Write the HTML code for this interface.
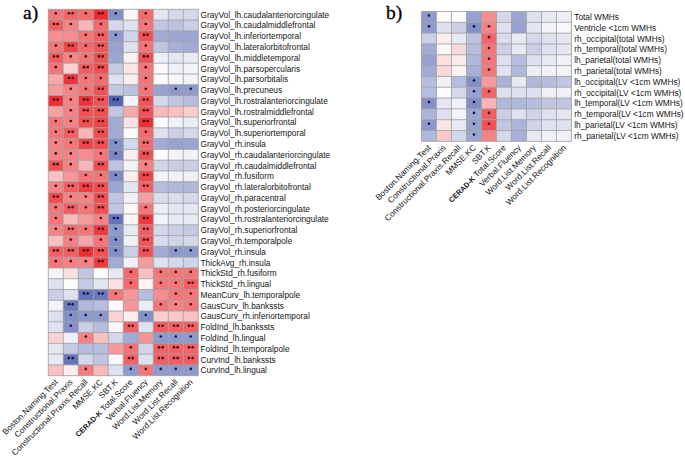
<!DOCTYPE html>
<html><head><meta charset="utf-8"><style>
html,body{margin:0;padding:0;background:#fff;}
body{width:685px;height:458px;overflow:hidden;}
svg{display:block;}
text{font-family:"Liberation Sans",sans-serif;}
.rl{font-size:8.3px;fill:#151515;}
.cl{fill:#151515;text-anchor:end;}
.st{font-size:8px;text-anchor:middle;font-weight:bold;}
.pl{font-family:"Liberation Serif",serif;font-size:19.5px;fill:#000;stroke:#000;stroke-width:0.3px;}
line{stroke:#9c9c9c;stroke-width:0.8;}
</style></head><body>
<svg width="685" height="458" viewBox="0 0 685 458">
<text class="pl" x="23.1" y="19">a)</text>
<text class="pl" x="386.1" y="18.6">b)</text>
<rect x="48.30" y="9.30" width="15.00" height="10.78" fill="#f57679"/>
<rect x="63.30" y="9.30" width="15.00" height="10.78" fill="#f46569"/>
<rect x="78.30" y="9.30" width="15.00" height="10.78" fill="#f46a6d"/>
<rect x="93.30" y="9.30" width="15.00" height="10.78" fill="#f12d32"/>
<rect x="108.30" y="9.30" width="15.00" height="10.78" fill="#8490c8"/>
<rect x="123.30" y="9.30" width="15.00" height="10.78" fill="#fcf7f8"/>
<rect x="138.30" y="9.30" width="15.00" height="10.78" fill="#f46a6d"/>
<rect x="153.30" y="9.30" width="15.00" height="10.78" fill="#e4e6f2"/>
<rect x="168.30" y="9.30" width="15.00" height="10.78" fill="#d4d8eb"/>
<rect x="183.30" y="9.30" width="15.00" height="10.78" fill="#d4d8eb"/>
<rect x="48.30" y="20.08" width="15.00" height="10.78" fill="#f45d62"/>
<rect x="63.30" y="20.08" width="15.00" height="10.78" fill="#f68285"/>
<rect x="78.30" y="20.08" width="15.00" height="10.78" fill="#f8b4b6"/>
<rect x="93.30" y="20.08" width="15.00" height="10.78" fill="#f46a6d"/>
<rect x="108.30" y="20.08" width="15.00" height="10.78" fill="#d4d8eb"/>
<rect x="123.30" y="20.08" width="15.00" height="10.78" fill="#dee1ef"/>
<rect x="138.30" y="20.08" width="15.00" height="10.78" fill="#f57679"/>
<rect x="153.30" y="20.08" width="15.00" height="10.78" fill="#c0c6e2"/>
<rect x="168.30" y="20.08" width="15.00" height="10.78" fill="#bcc2e0"/>
<rect x="183.30" y="20.08" width="15.00" height="10.78" fill="#cacfe6"/>
<rect x="48.30" y="30.85" width="15.00" height="10.78" fill="#f68e91"/>
<rect x="63.30" y="30.85" width="15.00" height="10.78" fill="#f68e91"/>
<rect x="78.30" y="30.85" width="15.00" height="10.78" fill="#f57679"/>
<rect x="93.30" y="30.85" width="15.00" height="10.78" fill="#f45d62"/>
<rect x="108.30" y="30.85" width="15.00" height="10.78" fill="#8e99cc"/>
<rect x="123.30" y="30.85" width="15.00" height="10.78" fill="#d0d4e9"/>
<rect x="138.30" y="30.85" width="15.00" height="10.78" fill="#f35156"/>
<rect x="153.30" y="30.85" width="15.00" height="10.78" fill="#a2abd5"/>
<rect x="168.30" y="30.85" width="15.00" height="10.78" fill="#9ca6d2"/>
<rect x="183.30" y="30.85" width="15.00" height="10.78" fill="#9ca6d2"/>
<rect x="48.30" y="41.63" width="15.00" height="10.78" fill="#f57679"/>
<rect x="63.30" y="41.63" width="15.00" height="10.78" fill="#f2454a"/>
<rect x="78.30" y="41.63" width="15.00" height="10.78" fill="#f46a6d"/>
<rect x="93.30" y="41.63" width="15.00" height="10.78" fill="#f3565a"/>
<rect x="108.30" y="41.63" width="15.00" height="10.78" fill="#98a2d0"/>
<rect x="123.30" y="41.63" width="15.00" height="10.78" fill="#dee1ef"/>
<rect x="138.30" y="41.63" width="15.00" height="10.78" fill="#f57679"/>
<rect x="153.30" y="41.63" width="15.00" height="10.78" fill="#c0c6e2"/>
<rect x="168.30" y="41.63" width="15.00" height="10.78" fill="#a8b0d7"/>
<rect x="183.30" y="41.63" width="15.00" height="10.78" fill="#a2abd5"/>
<rect x="48.30" y="52.40" width="15.00" height="10.78" fill="#f45d62"/>
<rect x="63.30" y="52.40" width="15.00" height="10.78" fill="#f68285"/>
<rect x="78.30" y="52.40" width="15.00" height="10.78" fill="#f57679"/>
<rect x="93.30" y="52.40" width="15.00" height="10.78" fill="#f35156"/>
<rect x="108.30" y="52.40" width="15.00" height="10.78" fill="#9ca6d2"/>
<rect x="123.30" y="52.40" width="15.00" height="10.78" fill="#fbf1f1"/>
<rect x="138.30" y="52.40" width="15.00" height="10.78" fill="#f34c51"/>
<rect x="153.30" y="52.40" width="15.00" height="10.78" fill="#eceef5"/>
<rect x="168.30" y="52.40" width="15.00" height="10.78" fill="#e4e6f2"/>
<rect x="183.30" y="52.40" width="15.00" height="10.78" fill="#e8eaf3"/>
<rect x="48.30" y="63.18" width="15.00" height="10.78" fill="#f57679"/>
<rect x="63.30" y="63.18" width="15.00" height="10.78" fill="#fad2d3"/>
<rect x="78.30" y="63.18" width="15.00" height="10.78" fill="#f45d62"/>
<rect x="93.30" y="63.18" width="15.00" height="10.78" fill="#f34c51"/>
<rect x="108.30" y="63.18" width="15.00" height="10.78" fill="#c4cae4"/>
<rect x="123.30" y="63.18" width="15.00" height="10.78" fill="#fbe5e5"/>
<rect x="138.30" y="63.18" width="15.00" height="10.78" fill="#f57679"/>
<rect x="153.30" y="63.18" width="15.00" height="10.78" fill="#fcf7f8"/>
<rect x="168.30" y="63.18" width="15.00" height="10.78" fill="#f0f1f7"/>
<rect x="183.30" y="63.18" width="15.00" height="10.78" fill="#f4f5f9"/>
<rect x="48.30" y="73.96" width="15.00" height="10.78" fill="#f8a7aa"/>
<rect x="63.30" y="73.96" width="15.00" height="10.78" fill="#f13439"/>
<rect x="78.30" y="73.96" width="15.00" height="10.78" fill="#f57679"/>
<rect x="93.30" y="73.96" width="15.00" height="10.78" fill="#f46a6d"/>
<rect x="108.30" y="73.96" width="15.00" height="10.78" fill="#dee1ef"/>
<rect x="123.30" y="73.96" width="15.00" height="10.78" fill="#fbeeef"/>
<rect x="138.30" y="73.96" width="15.00" height="10.78" fill="#f57679"/>
<rect x="153.30" y="73.96" width="15.00" height="10.78" fill="#fcfafa"/>
<rect x="168.30" y="73.96" width="15.00" height="10.78" fill="#f6f7f9"/>
<rect x="183.30" y="73.96" width="15.00" height="10.78" fill="#f2f3f8"/>
<rect x="48.30" y="84.73" width="15.00" height="10.78" fill="#f79a9d"/>
<rect x="63.30" y="84.73" width="15.00" height="10.78" fill="#f68285"/>
<rect x="78.30" y="84.73" width="15.00" height="10.78" fill="#f57679"/>
<rect x="93.30" y="84.73" width="15.00" height="10.78" fill="#f35156"/>
<rect x="108.30" y="84.73" width="15.00" height="10.78" fill="#c4cae4"/>
<rect x="123.30" y="84.73" width="15.00" height="10.78" fill="#bcc2e0"/>
<rect x="138.30" y="84.73" width="15.00" height="10.78" fill="#f57679"/>
<rect x="153.30" y="84.73" width="15.00" height="10.78" fill="#98a2d0"/>
<rect x="168.30" y="84.73" width="15.00" height="10.78" fill="#8e99cc"/>
<rect x="183.30" y="84.73" width="15.00" height="10.78" fill="#8e99cc"/>
<rect x="48.30" y="95.51" width="15.00" height="10.78" fill="#f12d32"/>
<rect x="63.30" y="95.51" width="15.00" height="10.78" fill="#f68285"/>
<rect x="78.30" y="95.51" width="15.00" height="10.78" fill="#f13439"/>
<rect x="93.30" y="95.51" width="15.00" height="10.78" fill="#f35156"/>
<rect x="108.30" y="95.51" width="15.00" height="10.78" fill="#5263b2"/>
<rect x="123.30" y="95.51" width="15.00" height="10.78" fill="#f2f3f8"/>
<rect x="138.30" y="95.51" width="15.00" height="10.78" fill="#f35156"/>
<rect x="153.30" y="95.51" width="15.00" height="10.78" fill="#d4d8eb"/>
<rect x="168.30" y="95.51" width="15.00" height="10.78" fill="#c0c6e2"/>
<rect x="183.30" y="95.51" width="15.00" height="10.78" fill="#b6bdde"/>
<rect x="48.30" y="106.28" width="15.00" height="10.78" fill="#f7a0a2"/>
<rect x="63.30" y="106.28" width="15.00" height="10.78" fill="#f68285"/>
<rect x="78.30" y="106.28" width="15.00" height="10.78" fill="#f35156"/>
<rect x="93.30" y="106.28" width="15.00" height="10.78" fill="#f34c51"/>
<rect x="108.30" y="106.28" width="15.00" height="10.78" fill="#c0c6e2"/>
<rect x="123.30" y="106.28" width="15.00" height="10.78" fill="#f8a7aa"/>
<rect x="138.30" y="106.28" width="15.00" height="10.78" fill="#f35156"/>
<rect x="153.30" y="106.28" width="15.00" height="10.78" fill="#f8b9bb"/>
<rect x="168.30" y="106.28" width="15.00" height="10.78" fill="#f9c1c2"/>
<rect x="183.30" y="106.28" width="15.00" height="10.78" fill="#facdce"/>
<rect x="48.30" y="117.06" width="15.00" height="10.78" fill="#f57679"/>
<rect x="63.30" y="117.06" width="15.00" height="10.78" fill="#f68285"/>
<rect x="78.30" y="117.06" width="15.00" height="10.78" fill="#f34c51"/>
<rect x="93.30" y="117.06" width="15.00" height="10.78" fill="#f2454a"/>
<rect x="108.30" y="117.06" width="15.00" height="10.78" fill="#a2abd5"/>
<rect x="123.30" y="117.06" width="15.00" height="10.78" fill="#fbe0e1"/>
<rect x="138.30" y="117.06" width="15.00" height="10.78" fill="#f12d32"/>
<rect x="153.30" y="117.06" width="15.00" height="10.78" fill="#fcfcfc"/>
<rect x="168.30" y="117.06" width="15.00" height="10.78" fill="#f2f3f8"/>
<rect x="183.30" y="117.06" width="15.00" height="10.78" fill="#eceef5"/>
<rect x="48.30" y="127.84" width="15.00" height="10.78" fill="#f57679"/>
<rect x="63.30" y="127.84" width="15.00" height="10.78" fill="#f45d62"/>
<rect x="78.30" y="127.84" width="15.00" height="10.78" fill="#f8b4b6"/>
<rect x="93.30" y="127.84" width="15.00" height="10.78" fill="#f34c51"/>
<rect x="108.30" y="127.84" width="15.00" height="10.78" fill="#a2abd5"/>
<rect x="123.30" y="127.84" width="15.00" height="10.78" fill="#fcfcfc"/>
<rect x="138.30" y="127.84" width="15.00" height="10.78" fill="#f46a6d"/>
<rect x="153.30" y="127.84" width="15.00" height="10.78" fill="#dee1ef"/>
<rect x="168.30" y="127.84" width="15.00" height="10.78" fill="#cacfe6"/>
<rect x="183.30" y="127.84" width="15.00" height="10.78" fill="#d4d8eb"/>
<rect x="48.30" y="138.61" width="15.00" height="10.78" fill="#f68285"/>
<rect x="63.30" y="138.61" width="15.00" height="10.78" fill="#f57679"/>
<rect x="78.30" y="138.61" width="15.00" height="10.78" fill="#f2454a"/>
<rect x="93.30" y="138.61" width="15.00" height="10.78" fill="#f34c51"/>
<rect x="108.30" y="138.61" width="15.00" height="10.78" fill="#8490c8"/>
<rect x="123.30" y="138.61" width="15.00" height="10.78" fill="#d4d8eb"/>
<rect x="138.30" y="138.61" width="15.00" height="10.78" fill="#f46a6d"/>
<rect x="153.30" y="138.61" width="15.00" height="10.78" fill="#a2abd5"/>
<rect x="168.30" y="138.61" width="15.00" height="10.78" fill="#98a2d0"/>
<rect x="183.30" y="138.61" width="15.00" height="10.78" fill="#9ca6d2"/>
<rect x="48.30" y="149.39" width="15.00" height="10.78" fill="#f68285"/>
<rect x="63.30" y="149.39" width="15.00" height="10.78" fill="#f68285"/>
<rect x="78.30" y="149.39" width="15.00" height="10.78" fill="#f68e91"/>
<rect x="93.30" y="149.39" width="15.00" height="10.78" fill="#f57679"/>
<rect x="108.30" y="149.39" width="15.00" height="10.78" fill="#7a87c3"/>
<rect x="123.30" y="149.39" width="15.00" height="10.78" fill="#fbeeef"/>
<rect x="138.30" y="149.39" width="15.00" height="10.78" fill="#f35156"/>
<rect x="153.30" y="149.39" width="15.00" height="10.78" fill="#fcfcfc"/>
<rect x="168.30" y="149.39" width="15.00" height="10.78" fill="#f2f3f8"/>
<rect x="183.30" y="149.39" width="15.00" height="10.78" fill="#f2f3f8"/>
<rect x="48.30" y="160.16" width="15.00" height="10.78" fill="#f35156"/>
<rect x="63.30" y="160.16" width="15.00" height="10.78" fill="#f68285"/>
<rect x="78.30" y="160.16" width="15.00" height="10.78" fill="#f8b4b6"/>
<rect x="93.30" y="160.16" width="15.00" height="10.78" fill="#f34c51"/>
<rect x="108.30" y="160.16" width="15.00" height="10.78" fill="#bcc2e0"/>
<rect x="123.30" y="160.16" width="15.00" height="10.78" fill="#f2f3f8"/>
<rect x="138.30" y="160.16" width="15.00" height="10.78" fill="#f68285"/>
<rect x="153.30" y="160.16" width="15.00" height="10.78" fill="#d0d4e9"/>
<rect x="168.30" y="160.16" width="15.00" height="10.78" fill="#cacfe6"/>
<rect x="183.30" y="160.16" width="15.00" height="10.78" fill="#cacfe6"/>
<rect x="48.30" y="170.94" width="15.00" height="10.78" fill="#f9c1c2"/>
<rect x="63.30" y="170.94" width="15.00" height="10.78" fill="#f79698"/>
<rect x="78.30" y="170.94" width="15.00" height="10.78" fill="#f57679"/>
<rect x="93.30" y="170.94" width="15.00" height="10.78" fill="#f57679"/>
<rect x="108.30" y="170.94" width="15.00" height="10.78" fill="#808cc6"/>
<rect x="123.30" y="170.94" width="15.00" height="10.78" fill="#fbeeef"/>
<rect x="138.30" y="170.94" width="15.00" height="10.78" fill="#f2454a"/>
<rect x="153.30" y="170.94" width="15.00" height="10.78" fill="#f4f5f9"/>
<rect x="168.30" y="170.94" width="15.00" height="10.78" fill="#f2f3f8"/>
<rect x="183.30" y="170.94" width="15.00" height="10.78" fill="#f0f1f7"/>
<rect x="48.30" y="181.72" width="15.00" height="10.78" fill="#f68285"/>
<rect x="63.30" y="181.72" width="15.00" height="10.78" fill="#f45d62"/>
<rect x="78.30" y="181.72" width="15.00" height="10.78" fill="#f23e43"/>
<rect x="93.30" y="181.72" width="15.00" height="10.78" fill="#f34c51"/>
<rect x="108.30" y="181.72" width="15.00" height="10.78" fill="#9ca6d2"/>
<rect x="123.30" y="181.72" width="15.00" height="10.78" fill="#e4e6f2"/>
<rect x="138.30" y="181.72" width="15.00" height="10.78" fill="#f45d62"/>
<rect x="153.30" y="181.72" width="15.00" height="10.78" fill="#b6bdde"/>
<rect x="168.30" y="181.72" width="15.00" height="10.78" fill="#b0b8db"/>
<rect x="183.30" y="181.72" width="15.00" height="10.78" fill="#b0b8db"/>
<rect x="48.30" y="192.49" width="15.00" height="10.78" fill="#f34c51"/>
<rect x="63.30" y="192.49" width="15.00" height="10.78" fill="#f68285"/>
<rect x="78.30" y="192.49" width="15.00" height="10.78" fill="#f68285"/>
<rect x="93.30" y="192.49" width="15.00" height="10.78" fill="#f34c51"/>
<rect x="108.30" y="192.49" width="15.00" height="10.78" fill="#c0c6e2"/>
<rect x="123.30" y="192.49" width="15.00" height="10.78" fill="#f0f1f7"/>
<rect x="138.30" y="192.49" width="15.00" height="10.78" fill="#f7a0a2"/>
<rect x="153.30" y="192.49" width="15.00" height="10.78" fill="#d8dcec"/>
<rect x="168.30" y="192.49" width="15.00" height="10.78" fill="#d8dcec"/>
<rect x="183.30" y="192.49" width="15.00" height="10.78" fill="#d4d8eb"/>
<rect x="48.30" y="203.27" width="15.00" height="10.78" fill="#f57679"/>
<rect x="63.30" y="203.27" width="15.00" height="10.78" fill="#f45d62"/>
<rect x="78.30" y="203.27" width="15.00" height="10.78" fill="#f57679"/>
<rect x="93.30" y="203.27" width="15.00" height="10.78" fill="#f34c51"/>
<rect x="108.30" y="203.27" width="15.00" height="10.78" fill="#c0c6e2"/>
<rect x="123.30" y="203.27" width="15.00" height="10.78" fill="#fcf7f8"/>
<rect x="138.30" y="203.27" width="15.00" height="10.78" fill="#f57679"/>
<rect x="153.30" y="203.27" width="15.00" height="10.78" fill="#eceef5"/>
<rect x="168.30" y="203.27" width="15.00" height="10.78" fill="#e4e6f2"/>
<rect x="183.30" y="203.27" width="15.00" height="10.78" fill="#e4e6f2"/>
<rect x="48.30" y="214.04" width="15.00" height="10.78" fill="#f57679"/>
<rect x="63.30" y="214.04" width="15.00" height="10.78" fill="#f8b9bb"/>
<rect x="78.30" y="214.04" width="15.00" height="10.78" fill="#f79a9d"/>
<rect x="93.30" y="214.04" width="15.00" height="10.78" fill="#f68285"/>
<rect x="108.30" y="214.04" width="15.00" height="10.78" fill="#6675bb"/>
<rect x="123.30" y="214.04" width="15.00" height="10.78" fill="#fcf3f3"/>
<rect x="138.30" y="214.04" width="15.00" height="10.78" fill="#f2393e"/>
<rect x="153.30" y="214.04" width="15.00" height="10.78" fill="#f2f3f8"/>
<rect x="168.30" y="214.04" width="15.00" height="10.78" fill="#e8eaf3"/>
<rect x="183.30" y="214.04" width="15.00" height="10.78" fill="#e8eaf3"/>
<rect x="48.30" y="224.82" width="15.00" height="10.78" fill="#f68285"/>
<rect x="63.30" y="224.82" width="15.00" height="10.78" fill="#f46a6d"/>
<rect x="78.30" y="224.82" width="15.00" height="10.78" fill="#f57679"/>
<rect x="93.30" y="224.82" width="15.00" height="10.78" fill="#f2393e"/>
<rect x="108.30" y="224.82" width="15.00" height="10.78" fill="#8e99cc"/>
<rect x="123.30" y="224.82" width="15.00" height="10.78" fill="#e8eaf3"/>
<rect x="138.30" y="224.82" width="15.00" height="10.78" fill="#f45d62"/>
<rect x="153.30" y="224.82" width="15.00" height="10.78" fill="#d4d8eb"/>
<rect x="168.30" y="224.82" width="15.00" height="10.78" fill="#cacfe6"/>
<rect x="183.30" y="224.82" width="15.00" height="10.78" fill="#c4cae4"/>
<rect x="48.30" y="235.60" width="15.00" height="10.78" fill="#f9c1c2"/>
<rect x="63.30" y="235.60" width="15.00" height="10.78" fill="#f68285"/>
<rect x="78.30" y="235.60" width="15.00" height="10.78" fill="#f8a7aa"/>
<rect x="93.30" y="235.60" width="15.00" height="10.78" fill="#f57679"/>
<rect x="108.30" y="235.60" width="15.00" height="10.78" fill="#8490c8"/>
<rect x="123.30" y="235.60" width="15.00" height="10.78" fill="#f0f1f7"/>
<rect x="138.30" y="235.60" width="15.00" height="10.78" fill="#f3565a"/>
<rect x="153.30" y="235.60" width="15.00" height="10.78" fill="#d8dcec"/>
<rect x="168.30" y="235.60" width="15.00" height="10.78" fill="#d0d4e9"/>
<rect x="183.30" y="235.60" width="15.00" height="10.78" fill="#d4d8eb"/>
<rect x="48.30" y="246.37" width="15.00" height="10.78" fill="#f45d62"/>
<rect x="63.30" y="246.37" width="15.00" height="10.78" fill="#f45d62"/>
<rect x="78.30" y="246.37" width="15.00" height="10.78" fill="#f12d32"/>
<rect x="93.30" y="246.37" width="15.00" height="10.78" fill="#f35156"/>
<rect x="108.30" y="246.37" width="15.00" height="10.78" fill="#8490c8"/>
<rect x="123.30" y="246.37" width="15.00" height="10.78" fill="#cacfe6"/>
<rect x="138.30" y="246.37" width="15.00" height="10.78" fill="#f35156"/>
<rect x="153.30" y="246.37" width="15.00" height="10.78" fill="#a2abd5"/>
<rect x="168.30" y="246.37" width="15.00" height="10.78" fill="#8e99cc"/>
<rect x="183.30" y="246.37" width="15.00" height="10.78" fill="#8e99cc"/>
<rect x="48.30" y="257.15" width="15.00" height="10.78" fill="#f57679"/>
<rect x="63.30" y="257.15" width="15.00" height="10.78" fill="#f68285"/>
<rect x="78.30" y="257.15" width="15.00" height="10.78" fill="#f68285"/>
<rect x="93.30" y="257.15" width="15.00" height="10.78" fill="#f2393e"/>
<rect x="108.30" y="257.15" width="15.00" height="10.78" fill="#a2abd5"/>
<rect x="123.30" y="257.15" width="15.00" height="10.78" fill="#f0f1f7"/>
<rect x="138.30" y="257.15" width="15.00" height="10.78" fill="#f79a9d"/>
<rect x="153.30" y="257.15" width="15.00" height="10.78" fill="#dee1ef"/>
<rect x="168.30" y="257.15" width="15.00" height="10.78" fill="#d4d8eb"/>
<rect x="183.30" y="257.15" width="15.00" height="10.78" fill="#d0d4e9"/>
<rect x="48.30" y="267.92" width="15.00" height="10.78" fill="#f2f3f8"/>
<rect x="63.30" y="267.92" width="15.00" height="10.78" fill="#fbe0e1"/>
<rect x="78.30" y="267.92" width="15.00" height="10.78" fill="#c0c6e2"/>
<rect x="93.30" y="267.92" width="15.00" height="10.78" fill="#fcfcfc"/>
<rect x="108.30" y="267.92" width="15.00" height="10.78" fill="#e8eaf3"/>
<rect x="123.30" y="267.92" width="15.00" height="10.78" fill="#f46a6d"/>
<rect x="138.30" y="267.92" width="15.00" height="10.78" fill="#f9c1c2"/>
<rect x="153.30" y="267.92" width="15.00" height="10.78" fill="#f57679"/>
<rect x="168.30" y="267.92" width="15.00" height="10.78" fill="#f57679"/>
<rect x="183.30" y="267.92" width="15.00" height="10.78" fill="#f57679"/>
<rect x="48.30" y="278.70" width="15.00" height="10.78" fill="#dee1ef"/>
<rect x="63.30" y="278.70" width="15.00" height="10.78" fill="#fcfcfc"/>
<rect x="78.30" y="278.70" width="15.00" height="10.78" fill="#c4cae4"/>
<rect x="93.30" y="278.70" width="15.00" height="10.78" fill="#e4e6f2"/>
<rect x="108.30" y="278.70" width="15.00" height="10.78" fill="#fbe0e1"/>
<rect x="123.30" y="278.70" width="15.00" height="10.78" fill="#f46a6d"/>
<rect x="138.30" y="278.70" width="15.00" height="10.78" fill="#fcf3f3"/>
<rect x="153.30" y="278.70" width="15.00" height="10.78" fill="#f57679"/>
<rect x="168.30" y="278.70" width="15.00" height="10.78" fill="#f57679"/>
<rect x="183.30" y="278.70" width="15.00" height="10.78" fill="#f45d62"/>
<rect x="48.30" y="289.48" width="15.00" height="10.78" fill="#cacfe6"/>
<rect x="63.30" y="289.48" width="15.00" height="10.78" fill="#dee1ef"/>
<rect x="78.30" y="289.48" width="15.00" height="10.78" fill="#6675bb"/>
<rect x="93.30" y="289.48" width="15.00" height="10.78" fill="#6c7abd"/>
<rect x="108.30" y="289.48" width="15.00" height="10.78" fill="#f57679"/>
<rect x="123.30" y="289.48" width="15.00" height="10.78" fill="#f79698"/>
<rect x="138.30" y="289.48" width="15.00" height="10.78" fill="#b6bdde"/>
<rect x="153.30" y="289.48" width="15.00" height="10.78" fill="#f68e91"/>
<rect x="168.30" y="289.48" width="15.00" height="10.78" fill="#f57679"/>
<rect x="183.30" y="289.48" width="15.00" height="10.78" fill="#f57679"/>
<rect x="48.30" y="300.25" width="15.00" height="10.78" fill="#f2f3f8"/>
<rect x="63.30" y="300.25" width="15.00" height="10.78" fill="#6c7abd"/>
<rect x="78.30" y="300.25" width="15.00" height="10.78" fill="#b0b8db"/>
<rect x="93.30" y="300.25" width="15.00" height="10.78" fill="#b6bdde"/>
<rect x="108.30" y="300.25" width="15.00" height="10.78" fill="#fcfcfc"/>
<rect x="123.30" y="300.25" width="15.00" height="10.78" fill="#f79698"/>
<rect x="138.30" y="300.25" width="15.00" height="10.78" fill="#eceef5"/>
<rect x="153.30" y="300.25" width="15.00" height="10.78" fill="#f57679"/>
<rect x="168.30" y="300.25" width="15.00" height="10.78" fill="#f68285"/>
<rect x="183.30" y="300.25" width="15.00" height="10.78" fill="#f57679"/>
<rect x="48.30" y="311.03" width="15.00" height="10.78" fill="#dee1ef"/>
<rect x="63.30" y="311.03" width="15.00" height="10.78" fill="#8490c8"/>
<rect x="78.30" y="311.03" width="15.00" height="10.78" fill="#8e99cc"/>
<rect x="93.30" y="311.03" width="15.00" height="10.78" fill="#8e99cc"/>
<rect x="108.30" y="311.03" width="15.00" height="10.78" fill="#fad2d3"/>
<rect x="123.30" y="311.03" width="15.00" height="10.78" fill="#fbeeef"/>
<rect x="138.30" y="311.03" width="15.00" height="10.78" fill="#8490c8"/>
<rect x="153.30" y="311.03" width="15.00" height="10.78" fill="#facdce"/>
<rect x="168.30" y="311.03" width="15.00" height="10.78" fill="#f9c8c9"/>
<rect x="183.30" y="311.03" width="15.00" height="10.78" fill="#f9c1c2"/>
<rect x="48.30" y="321.80" width="15.00" height="10.78" fill="#dee1ef"/>
<rect x="63.30" y="321.80" width="15.00" height="10.78" fill="#8490c8"/>
<rect x="78.30" y="321.80" width="15.00" height="10.78" fill="#cacfe6"/>
<rect x="93.30" y="321.80" width="15.00" height="10.78" fill="#b6bdde"/>
<rect x="108.30" y="321.80" width="15.00" height="10.78" fill="#fcf7f8"/>
<rect x="123.30" y="321.80" width="15.00" height="10.78" fill="#f46064"/>
<rect x="138.30" y="321.80" width="15.00" height="10.78" fill="#dee1ef"/>
<rect x="153.30" y="321.80" width="15.00" height="10.78" fill="#f45b5f"/>
<rect x="168.30" y="321.80" width="15.00" height="10.78" fill="#f46064"/>
<rect x="183.30" y="321.80" width="15.00" height="10.78" fill="#f46064"/>
<rect x="48.30" y="332.58" width="15.00" height="10.78" fill="#fad2d3"/>
<rect x="63.30" y="332.58" width="15.00" height="10.78" fill="#f0f1f7"/>
<rect x="78.30" y="332.58" width="15.00" height="10.78" fill="#f68285"/>
<rect x="93.30" y="332.58" width="15.00" height="10.78" fill="#f9c1c2"/>
<rect x="108.30" y="332.58" width="15.00" height="10.78" fill="#d4d8eb"/>
<rect x="123.30" y="332.58" width="15.00" height="10.78" fill="#a2abd5"/>
<rect x="138.30" y="332.58" width="15.00" height="10.78" fill="#f69396"/>
<rect x="153.30" y="332.58" width="15.00" height="10.78" fill="#8e99cc"/>
<rect x="168.30" y="332.58" width="15.00" height="10.78" fill="#8e99cc"/>
<rect x="183.30" y="332.58" width="15.00" height="10.78" fill="#8e99cc"/>
<rect x="48.30" y="343.36" width="15.00" height="10.78" fill="#e4e6f2"/>
<rect x="63.30" y="343.36" width="15.00" height="10.78" fill="#c4cae4"/>
<rect x="78.30" y="343.36" width="15.00" height="10.78" fill="#b4bbdd"/>
<rect x="93.30" y="343.36" width="15.00" height="10.78" fill="#b6bdde"/>
<rect x="108.30" y="343.36" width="15.00" height="10.78" fill="#f7989b"/>
<rect x="123.30" y="343.36" width="15.00" height="10.78" fill="#f57377"/>
<rect x="138.30" y="343.36" width="15.00" height="10.78" fill="#d0d4e9"/>
<rect x="153.30" y="343.36" width="15.00" height="10.78" fill="#f46266"/>
<rect x="168.30" y="343.36" width="15.00" height="10.78" fill="#f46266"/>
<rect x="183.30" y="343.36" width="15.00" height="10.78" fill="#f46266"/>
<rect x="48.30" y="354.13" width="15.00" height="10.78" fill="#e8eaf3"/>
<rect x="63.30" y="354.13" width="15.00" height="10.78" fill="#6675bb"/>
<rect x="78.30" y="354.13" width="15.00" height="10.78" fill="#d4d8eb"/>
<rect x="93.30" y="354.13" width="15.00" height="10.78" fill="#c0c6e2"/>
<rect x="108.30" y="354.13" width="15.00" height="10.78" fill="#fcf7f8"/>
<rect x="123.30" y="354.13" width="15.00" height="10.78" fill="#f46064"/>
<rect x="138.30" y="354.13" width="15.00" height="10.78" fill="#dee1ef"/>
<rect x="153.30" y="354.13" width="15.00" height="10.78" fill="#f45d62"/>
<rect x="168.30" y="354.13" width="15.00" height="10.78" fill="#f45d62"/>
<rect x="183.30" y="354.13" width="15.00" height="10.78" fill="#f45d62"/>
<rect x="48.30" y="364.91" width="15.00" height="10.78" fill="#f9c1c2"/>
<rect x="63.30" y="364.91" width="15.00" height="10.78" fill="#fbeeef"/>
<rect x="78.30" y="364.91" width="15.00" height="10.78" fill="#f57b7e"/>
<rect x="93.30" y="364.91" width="15.00" height="10.78" fill="#f8b9bb"/>
<rect x="108.30" y="364.91" width="15.00" height="10.78" fill="#dee1ef"/>
<rect x="123.30" y="364.91" width="15.00" height="10.78" fill="#8e99cc"/>
<rect x="138.30" y="364.91" width="15.00" height="10.78" fill="#f57679"/>
<rect x="153.30" y="364.91" width="15.00" height="10.78" fill="#8e99cc"/>
<rect x="168.30" y="364.91" width="15.00" height="10.78" fill="#8e99cc"/>
<rect x="183.30" y="364.91" width="15.00" height="10.78" fill="#8e99cc"/>
<line x1="48.30" y1="9.30" x2="198.30" y2="9.30"/>
<line x1="48.30" y1="20.08" x2="198.30" y2="20.08"/>
<line x1="48.30" y1="30.85" x2="198.30" y2="30.85"/>
<line x1="48.30" y1="41.63" x2="198.30" y2="41.63"/>
<line x1="48.30" y1="52.40" x2="198.30" y2="52.40"/>
<line x1="48.30" y1="63.18" x2="198.30" y2="63.18"/>
<line x1="48.30" y1="73.96" x2="198.30" y2="73.96"/>
<line x1="48.30" y1="84.73" x2="198.30" y2="84.73"/>
<line x1="48.30" y1="95.51" x2="198.30" y2="95.51"/>
<line x1="48.30" y1="106.28" x2="198.30" y2="106.28"/>
<line x1="48.30" y1="117.06" x2="198.30" y2="117.06"/>
<line x1="48.30" y1="127.84" x2="198.30" y2="127.84"/>
<line x1="48.30" y1="138.61" x2="198.30" y2="138.61"/>
<line x1="48.30" y1="149.39" x2="198.30" y2="149.39"/>
<line x1="48.30" y1="160.16" x2="198.30" y2="160.16"/>
<line x1="48.30" y1="170.94" x2="198.30" y2="170.94"/>
<line x1="48.30" y1="181.72" x2="198.30" y2="181.72"/>
<line x1="48.30" y1="192.49" x2="198.30" y2="192.49"/>
<line x1="48.30" y1="203.27" x2="198.30" y2="203.27"/>
<line x1="48.30" y1="214.04" x2="198.30" y2="214.04"/>
<line x1="48.30" y1="224.82" x2="198.30" y2="224.82"/>
<line x1="48.30" y1="235.60" x2="198.30" y2="235.60"/>
<line x1="48.30" y1="246.37" x2="198.30" y2="246.37"/>
<line x1="48.30" y1="257.15" x2="198.30" y2="257.15"/>
<line x1="48.30" y1="267.92" x2="198.30" y2="267.92"/>
<line x1="48.30" y1="278.70" x2="198.30" y2="278.70"/>
<line x1="48.30" y1="289.48" x2="198.30" y2="289.48"/>
<line x1="48.30" y1="300.25" x2="198.30" y2="300.25"/>
<line x1="48.30" y1="311.03" x2="198.30" y2="311.03"/>
<line x1="48.30" y1="321.80" x2="198.30" y2="321.80"/>
<line x1="48.30" y1="332.58" x2="198.30" y2="332.58"/>
<line x1="48.30" y1="343.36" x2="198.30" y2="343.36"/>
<line x1="48.30" y1="354.13" x2="198.30" y2="354.13"/>
<line x1="48.30" y1="364.91" x2="198.30" y2="364.91"/>
<line x1="48.30" y1="375.68" x2="198.30" y2="375.68"/>
<line x1="48.30" y1="9.30" x2="48.30" y2="375.68"/>
<line x1="63.30" y1="9.30" x2="63.30" y2="375.68"/>
<line x1="78.30" y1="9.30" x2="78.30" y2="375.68"/>
<line x1="93.30" y1="9.30" x2="93.30" y2="375.68"/>
<line x1="108.30" y1="9.30" x2="108.30" y2="375.68"/>
<line x1="123.30" y1="9.30" x2="123.30" y2="375.68"/>
<line x1="138.30" y1="9.30" x2="138.30" y2="375.68"/>
<line x1="153.30" y1="9.30" x2="153.30" y2="375.68"/>
<line x1="168.30" y1="9.30" x2="168.30" y2="375.68"/>
<line x1="183.30" y1="9.30" x2="183.30" y2="375.68"/>
<line x1="198.30" y1="9.30" x2="198.30" y2="375.68"/>
<circle cx="55.80" cy="13.29" r="1.3" fill="#3a0c0e"/>
<circle cx="68.95" cy="13.29" r="1.3" fill="#3a0c0e"/>
<circle cx="72.65" cy="13.29" r="1.3" fill="#3a0c0e"/>
<circle cx="85.80" cy="13.29" r="1.3" fill="#3a0c0e"/>
<circle cx="98.95" cy="13.29" r="1.3" fill="#3a0c0e"/>
<circle cx="102.65" cy="13.29" r="1.3" fill="#3a0c0e"/>
<circle cx="115.80" cy="13.29" r="1.3" fill="#0e1540"/>
<circle cx="145.80" cy="13.29" r="1.3" fill="#3a0c0e"/>
<circle cx="53.95" cy="24.06" r="1.3" fill="#3a0c0e"/>
<circle cx="57.65" cy="24.06" r="1.3" fill="#3a0c0e"/>
<circle cx="70.80" cy="24.06" r="1.3" fill="#3a0c0e"/>
<circle cx="100.80" cy="24.06" r="1.3" fill="#3a0c0e"/>
<circle cx="145.80" cy="24.06" r="1.3" fill="#3a0c0e"/>
<circle cx="85.80" cy="34.84" r="1.3" fill="#3a0c0e"/>
<circle cx="98.95" cy="34.84" r="1.3" fill="#3a0c0e"/>
<circle cx="102.65" cy="34.84" r="1.3" fill="#3a0c0e"/>
<circle cx="115.80" cy="34.84" r="1.3" fill="#0e1540"/>
<circle cx="143.95" cy="34.84" r="1.3" fill="#3a0c0e"/>
<circle cx="147.65" cy="34.84" r="1.3" fill="#3a0c0e"/>
<circle cx="55.80" cy="45.62" r="1.3" fill="#3a0c0e"/>
<circle cx="68.95" cy="45.62" r="1.3" fill="#3a0c0e"/>
<circle cx="72.65" cy="45.62" r="1.3" fill="#3a0c0e"/>
<circle cx="85.80" cy="45.62" r="1.3" fill="#3a0c0e"/>
<circle cx="98.95" cy="45.62" r="1.3" fill="#3a0c0e"/>
<circle cx="102.65" cy="45.62" r="1.3" fill="#3a0c0e"/>
<circle cx="145.80" cy="45.62" r="1.3" fill="#3a0c0e"/>
<circle cx="53.95" cy="56.39" r="1.3" fill="#3a0c0e"/>
<circle cx="57.65" cy="56.39" r="1.3" fill="#3a0c0e"/>
<circle cx="70.80" cy="56.39" r="1.3" fill="#3a0c0e"/>
<circle cx="85.80" cy="56.39" r="1.3" fill="#3a0c0e"/>
<circle cx="98.95" cy="56.39" r="1.3" fill="#3a0c0e"/>
<circle cx="102.65" cy="56.39" r="1.3" fill="#3a0c0e"/>
<circle cx="143.95" cy="56.39" r="1.3" fill="#3a0c0e"/>
<circle cx="147.65" cy="56.39" r="1.3" fill="#3a0c0e"/>
<circle cx="55.80" cy="67.17" r="1.3" fill="#3a0c0e"/>
<circle cx="83.95" cy="67.17" r="1.3" fill="#3a0c0e"/>
<circle cx="87.65" cy="67.17" r="1.3" fill="#3a0c0e"/>
<circle cx="98.95" cy="67.17" r="1.3" fill="#3a0c0e"/>
<circle cx="102.65" cy="67.17" r="1.3" fill="#3a0c0e"/>
<circle cx="145.80" cy="67.17" r="1.3" fill="#3a0c0e"/>
<circle cx="68.95" cy="77.94" r="1.3" fill="#3a0c0e"/>
<circle cx="72.65" cy="77.94" r="1.3" fill="#3a0c0e"/>
<circle cx="85.80" cy="77.94" r="1.3" fill="#3a0c0e"/>
<circle cx="100.80" cy="77.94" r="1.3" fill="#3a0c0e"/>
<circle cx="145.80" cy="77.94" r="1.3" fill="#3a0c0e"/>
<circle cx="70.80" cy="88.72" r="1.3" fill="#3a0c0e"/>
<circle cx="85.80" cy="88.72" r="1.3" fill="#3a0c0e"/>
<circle cx="98.95" cy="88.72" r="1.3" fill="#3a0c0e"/>
<circle cx="102.65" cy="88.72" r="1.3" fill="#3a0c0e"/>
<circle cx="145.80" cy="88.72" r="1.3" fill="#3a0c0e"/>
<circle cx="175.80" cy="88.72" r="1.3" fill="#0e1540"/>
<circle cx="190.80" cy="88.72" r="1.3" fill="#0e1540"/>
<circle cx="53.95" cy="99.50" r="1.3" fill="#3a0c0e"/>
<circle cx="57.65" cy="99.50" r="1.3" fill="#3a0c0e"/>
<circle cx="70.80" cy="99.50" r="1.3" fill="#3a0c0e"/>
<circle cx="83.95" cy="99.50" r="1.3" fill="#3a0c0e"/>
<circle cx="87.65" cy="99.50" r="1.3" fill="#3a0c0e"/>
<circle cx="98.95" cy="99.50" r="1.3" fill="#3a0c0e"/>
<circle cx="102.65" cy="99.50" r="1.3" fill="#3a0c0e"/>
<circle cx="113.95" cy="99.50" r="1.3" fill="#0e1540"/>
<circle cx="117.65" cy="99.50" r="1.3" fill="#0e1540"/>
<circle cx="143.95" cy="99.50" r="1.3" fill="#3a0c0e"/>
<circle cx="147.65" cy="99.50" r="1.3" fill="#3a0c0e"/>
<circle cx="70.80" cy="110.27" r="1.3" fill="#3a0c0e"/>
<circle cx="83.95" cy="110.27" r="1.3" fill="#3a0c0e"/>
<circle cx="87.65" cy="110.27" r="1.3" fill="#3a0c0e"/>
<circle cx="98.95" cy="110.27" r="1.3" fill="#3a0c0e"/>
<circle cx="102.65" cy="110.27" r="1.3" fill="#3a0c0e"/>
<circle cx="143.95" cy="110.27" r="1.3" fill="#3a0c0e"/>
<circle cx="147.65" cy="110.27" r="1.3" fill="#3a0c0e"/>
<circle cx="55.80" cy="121.05" r="1.3" fill="#3a0c0e"/>
<circle cx="70.80" cy="121.05" r="1.3" fill="#3a0c0e"/>
<circle cx="83.95" cy="121.05" r="1.3" fill="#3a0c0e"/>
<circle cx="87.65" cy="121.05" r="1.3" fill="#3a0c0e"/>
<circle cx="98.95" cy="121.05" r="1.3" fill="#3a0c0e"/>
<circle cx="102.65" cy="121.05" r="1.3" fill="#3a0c0e"/>
<circle cx="143.95" cy="121.05" r="1.3" fill="#3a0c0e"/>
<circle cx="147.65" cy="121.05" r="1.3" fill="#3a0c0e"/>
<circle cx="55.80" cy="131.82" r="1.3" fill="#3a0c0e"/>
<circle cx="68.95" cy="131.82" r="1.3" fill="#3a0c0e"/>
<circle cx="72.65" cy="131.82" r="1.3" fill="#3a0c0e"/>
<circle cx="98.95" cy="131.82" r="1.3" fill="#3a0c0e"/>
<circle cx="102.65" cy="131.82" r="1.3" fill="#3a0c0e"/>
<circle cx="145.80" cy="131.82" r="1.3" fill="#3a0c0e"/>
<circle cx="55.80" cy="142.60" r="1.3" fill="#3a0c0e"/>
<circle cx="70.80" cy="142.60" r="1.3" fill="#3a0c0e"/>
<circle cx="83.95" cy="142.60" r="1.3" fill="#3a0c0e"/>
<circle cx="87.65" cy="142.60" r="1.3" fill="#3a0c0e"/>
<circle cx="98.95" cy="142.60" r="1.3" fill="#3a0c0e"/>
<circle cx="102.65" cy="142.60" r="1.3" fill="#3a0c0e"/>
<circle cx="115.80" cy="142.60" r="1.3" fill="#0e1540"/>
<circle cx="143.95" cy="142.60" r="1.3" fill="#3a0c0e"/>
<circle cx="147.65" cy="142.60" r="1.3" fill="#3a0c0e"/>
<circle cx="55.80" cy="153.38" r="1.3" fill="#3a0c0e"/>
<circle cx="70.80" cy="153.38" r="1.3" fill="#3a0c0e"/>
<circle cx="100.80" cy="153.38" r="1.3" fill="#3a0c0e"/>
<circle cx="115.80" cy="153.38" r="1.3" fill="#0e1540"/>
<circle cx="143.95" cy="153.38" r="1.3" fill="#3a0c0e"/>
<circle cx="147.65" cy="153.38" r="1.3" fill="#3a0c0e"/>
<circle cx="53.95" cy="164.15" r="1.3" fill="#3a0c0e"/>
<circle cx="57.65" cy="164.15" r="1.3" fill="#3a0c0e"/>
<circle cx="70.80" cy="164.15" r="1.3" fill="#3a0c0e"/>
<circle cx="98.95" cy="164.15" r="1.3" fill="#3a0c0e"/>
<circle cx="102.65" cy="164.15" r="1.3" fill="#3a0c0e"/>
<circle cx="145.80" cy="164.15" r="1.3" fill="#3a0c0e"/>
<circle cx="85.80" cy="174.93" r="1.3" fill="#3a0c0e"/>
<circle cx="100.80" cy="174.93" r="1.3" fill="#3a0c0e"/>
<circle cx="115.80" cy="174.93" r="1.3" fill="#0e1540"/>
<circle cx="143.95" cy="174.93" r="1.3" fill="#3a0c0e"/>
<circle cx="147.65" cy="174.93" r="1.3" fill="#3a0c0e"/>
<circle cx="55.80" cy="185.70" r="1.3" fill="#3a0c0e"/>
<circle cx="68.95" cy="185.70" r="1.3" fill="#3a0c0e"/>
<circle cx="72.65" cy="185.70" r="1.3" fill="#3a0c0e"/>
<circle cx="83.95" cy="185.70" r="1.3" fill="#3a0c0e"/>
<circle cx="87.65" cy="185.70" r="1.3" fill="#3a0c0e"/>
<circle cx="98.95" cy="185.70" r="1.3" fill="#3a0c0e"/>
<circle cx="102.65" cy="185.70" r="1.3" fill="#3a0c0e"/>
<circle cx="143.95" cy="185.70" r="1.3" fill="#3a0c0e"/>
<circle cx="147.65" cy="185.70" r="1.3" fill="#3a0c0e"/>
<circle cx="53.95" cy="196.48" r="1.3" fill="#3a0c0e"/>
<circle cx="57.65" cy="196.48" r="1.3" fill="#3a0c0e"/>
<circle cx="70.80" cy="196.48" r="1.3" fill="#3a0c0e"/>
<circle cx="85.80" cy="196.48" r="1.3" fill="#3a0c0e"/>
<circle cx="98.95" cy="196.48" r="1.3" fill="#3a0c0e"/>
<circle cx="102.65" cy="196.48" r="1.3" fill="#3a0c0e"/>
<circle cx="55.80" cy="207.26" r="1.3" fill="#3a0c0e"/>
<circle cx="68.95" cy="207.26" r="1.3" fill="#3a0c0e"/>
<circle cx="72.65" cy="207.26" r="1.3" fill="#3a0c0e"/>
<circle cx="85.80" cy="207.26" r="1.3" fill="#3a0c0e"/>
<circle cx="98.95" cy="207.26" r="1.3" fill="#3a0c0e"/>
<circle cx="102.65" cy="207.26" r="1.3" fill="#3a0c0e"/>
<circle cx="145.80" cy="207.26" r="1.3" fill="#3a0c0e"/>
<circle cx="55.80" cy="218.03" r="1.3" fill="#3a0c0e"/>
<circle cx="100.80" cy="218.03" r="1.3" fill="#3a0c0e"/>
<circle cx="113.95" cy="218.03" r="1.3" fill="#0e1540"/>
<circle cx="117.65" cy="218.03" r="1.3" fill="#0e1540"/>
<circle cx="143.95" cy="218.03" r="1.3" fill="#3a0c0e"/>
<circle cx="147.65" cy="218.03" r="1.3" fill="#3a0c0e"/>
<circle cx="55.80" cy="228.81" r="1.3" fill="#3a0c0e"/>
<circle cx="68.95" cy="228.81" r="1.3" fill="#3a0c0e"/>
<circle cx="72.65" cy="228.81" r="1.3" fill="#3a0c0e"/>
<circle cx="85.80" cy="228.81" r="1.3" fill="#3a0c0e"/>
<circle cx="98.95" cy="228.81" r="1.3" fill="#3a0c0e"/>
<circle cx="102.65" cy="228.81" r="1.3" fill="#3a0c0e"/>
<circle cx="115.80" cy="228.81" r="1.3" fill="#0e1540"/>
<circle cx="143.95" cy="228.81" r="1.3" fill="#3a0c0e"/>
<circle cx="147.65" cy="228.81" r="1.3" fill="#3a0c0e"/>
<circle cx="70.80" cy="239.58" r="1.3" fill="#3a0c0e"/>
<circle cx="100.80" cy="239.58" r="1.3" fill="#3a0c0e"/>
<circle cx="115.80" cy="239.58" r="1.3" fill="#0e1540"/>
<circle cx="143.95" cy="239.58" r="1.3" fill="#3a0c0e"/>
<circle cx="147.65" cy="239.58" r="1.3" fill="#3a0c0e"/>
<circle cx="53.95" cy="250.36" r="1.3" fill="#3a0c0e"/>
<circle cx="57.65" cy="250.36" r="1.3" fill="#3a0c0e"/>
<circle cx="68.95" cy="250.36" r="1.3" fill="#3a0c0e"/>
<circle cx="72.65" cy="250.36" r="1.3" fill="#3a0c0e"/>
<circle cx="83.95" cy="250.36" r="1.3" fill="#3a0c0e"/>
<circle cx="87.65" cy="250.36" r="1.3" fill="#3a0c0e"/>
<circle cx="98.95" cy="250.36" r="1.3" fill="#3a0c0e"/>
<circle cx="102.65" cy="250.36" r="1.3" fill="#3a0c0e"/>
<circle cx="115.80" cy="250.36" r="1.3" fill="#0e1540"/>
<circle cx="143.95" cy="250.36" r="1.3" fill="#3a0c0e"/>
<circle cx="147.65" cy="250.36" r="1.3" fill="#3a0c0e"/>
<circle cx="175.80" cy="250.36" r="1.3" fill="#0e1540"/>
<circle cx="190.80" cy="250.36" r="1.3" fill="#0e1540"/>
<circle cx="55.80" cy="261.14" r="1.3" fill="#3a0c0e"/>
<circle cx="70.80" cy="261.14" r="1.3" fill="#3a0c0e"/>
<circle cx="85.80" cy="261.14" r="1.3" fill="#3a0c0e"/>
<circle cx="98.95" cy="261.14" r="1.3" fill="#3a0c0e"/>
<circle cx="102.65" cy="261.14" r="1.3" fill="#3a0c0e"/>
<circle cx="130.80" cy="271.91" r="1.3" fill="#3a0c0e"/>
<circle cx="160.80" cy="271.91" r="1.3" fill="#3a0c0e"/>
<circle cx="175.80" cy="271.91" r="1.3" fill="#3a0c0e"/>
<circle cx="190.80" cy="271.91" r="1.3" fill="#3a0c0e"/>
<circle cx="130.80" cy="282.69" r="1.3" fill="#3a0c0e"/>
<circle cx="160.80" cy="282.69" r="1.3" fill="#3a0c0e"/>
<circle cx="175.80" cy="282.69" r="1.3" fill="#3a0c0e"/>
<circle cx="188.95" cy="282.69" r="1.3" fill="#3a0c0e"/>
<circle cx="192.65" cy="282.69" r="1.3" fill="#3a0c0e"/>
<circle cx="83.95" cy="293.46" r="1.3" fill="#0e1540"/>
<circle cx="87.65" cy="293.46" r="1.3" fill="#0e1540"/>
<circle cx="98.95" cy="293.46" r="1.3" fill="#0e1540"/>
<circle cx="102.65" cy="293.46" r="1.3" fill="#0e1540"/>
<circle cx="115.80" cy="293.46" r="1.3" fill="#3a0c0e"/>
<circle cx="175.80" cy="293.46" r="1.3" fill="#3a0c0e"/>
<circle cx="190.80" cy="293.46" r="1.3" fill="#3a0c0e"/>
<circle cx="68.95" cy="304.24" r="1.3" fill="#0e1540"/>
<circle cx="72.65" cy="304.24" r="1.3" fill="#0e1540"/>
<circle cx="160.80" cy="304.24" r="1.3" fill="#3a0c0e"/>
<circle cx="175.80" cy="304.24" r="1.3" fill="#3a0c0e"/>
<circle cx="190.80" cy="304.24" r="1.3" fill="#3a0c0e"/>
<circle cx="70.80" cy="315.02" r="1.3" fill="#0e1540"/>
<circle cx="85.80" cy="315.02" r="1.3" fill="#0e1540"/>
<circle cx="100.80" cy="315.02" r="1.3" fill="#0e1540"/>
<circle cx="145.80" cy="315.02" r="1.3" fill="#0e1540"/>
<circle cx="70.80" cy="325.79" r="1.3" fill="#0e1540"/>
<circle cx="128.95" cy="325.79" r="1.3" fill="#3a0c0e"/>
<circle cx="132.65" cy="325.79" r="1.3" fill="#3a0c0e"/>
<circle cx="158.95" cy="325.79" r="1.3" fill="#3a0c0e"/>
<circle cx="162.65" cy="325.79" r="1.3" fill="#3a0c0e"/>
<circle cx="173.95" cy="325.79" r="1.3" fill="#3a0c0e"/>
<circle cx="177.65" cy="325.79" r="1.3" fill="#3a0c0e"/>
<circle cx="188.95" cy="325.79" r="1.3" fill="#3a0c0e"/>
<circle cx="192.65" cy="325.79" r="1.3" fill="#3a0c0e"/>
<circle cx="85.80" cy="336.57" r="1.3" fill="#3a0c0e"/>
<circle cx="160.80" cy="336.57" r="1.3" fill="#0e1540"/>
<circle cx="175.80" cy="336.57" r="1.3" fill="#0e1540"/>
<circle cx="190.80" cy="336.57" r="1.3" fill="#0e1540"/>
<circle cx="130.80" cy="347.34" r="1.3" fill="#3a0c0e"/>
<circle cx="158.95" cy="347.34" r="1.3" fill="#3a0c0e"/>
<circle cx="162.65" cy="347.34" r="1.3" fill="#3a0c0e"/>
<circle cx="173.95" cy="347.34" r="1.3" fill="#3a0c0e"/>
<circle cx="177.65" cy="347.34" r="1.3" fill="#3a0c0e"/>
<circle cx="188.95" cy="347.34" r="1.3" fill="#3a0c0e"/>
<circle cx="192.65" cy="347.34" r="1.3" fill="#3a0c0e"/>
<circle cx="68.95" cy="358.12" r="1.3" fill="#0e1540"/>
<circle cx="72.65" cy="358.12" r="1.3" fill="#0e1540"/>
<circle cx="128.95" cy="358.12" r="1.3" fill="#3a0c0e"/>
<circle cx="132.65" cy="358.12" r="1.3" fill="#3a0c0e"/>
<circle cx="158.95" cy="358.12" r="1.3" fill="#3a0c0e"/>
<circle cx="162.65" cy="358.12" r="1.3" fill="#3a0c0e"/>
<circle cx="173.95" cy="358.12" r="1.3" fill="#3a0c0e"/>
<circle cx="177.65" cy="358.12" r="1.3" fill="#3a0c0e"/>
<circle cx="188.95" cy="358.12" r="1.3" fill="#3a0c0e"/>
<circle cx="192.65" cy="358.12" r="1.3" fill="#3a0c0e"/>
<circle cx="85.80" cy="368.90" r="1.3" fill="#3a0c0e"/>
<circle cx="130.80" cy="368.90" r="1.3" fill="#0e1540"/>
<circle cx="145.80" cy="368.90" r="1.3" fill="#3a0c0e"/>
<circle cx="160.80" cy="368.90" r="1.3" fill="#0e1540"/>
<circle cx="175.80" cy="368.90" r="1.3" fill="#0e1540"/>
<circle cx="190.80" cy="368.90" r="1.3" fill="#0e1540"/>
<text class="rl" x="200.50" y="17.69">GrayVol_lh.caudalanteriorcingulate</text>
<text class="rl" x="200.50" y="28.46">GrayVol_lh.caudalmiddlefrontal</text>
<text class="rl" x="200.50" y="39.24">GrayVol_lh.inferiortemporal</text>
<text class="rl" x="200.50" y="50.02">GrayVol_lh.lateralorbitofrontal</text>
<text class="rl" x="200.50" y="60.79">GrayVol_lh.middletemporal</text>
<text class="rl" x="200.50" y="71.57">GrayVol_lh.parsopercularis</text>
<text class="rl" x="200.50" y="82.34">GrayVol_lh.parsorbitalis</text>
<text class="rl" x="200.50" y="93.12">GrayVol_lh.precuneus</text>
<text class="rl" x="200.50" y="103.90">GrayVol_lh.rostralanteriorcingulate</text>
<text class="rl" x="200.50" y="114.67">GrayVol_lh.rostralmiddlefrontal</text>
<text class="rl" x="200.50" y="125.45">GrayVol_lh.superiorfrontal</text>
<text class="rl" x="200.50" y="136.22">GrayVol_lh.superiortemporal</text>
<text class="rl" x="200.50" y="147.00">GrayVol_rh.insula</text>
<text class="rl" x="200.50" y="157.78">GrayVol_rh.caudalanteriorcingulate</text>
<text class="rl" x="200.50" y="168.55">GrayVol_rh.caudalmiddlefrontal</text>
<text class="rl" x="200.50" y="179.33">GrayVol_rh.fusiform</text>
<text class="rl" x="200.50" y="190.10">GrayVol_rh.lateralorbitofrontal</text>
<text class="rl" x="200.50" y="200.88">GrayVol_rh.paracentral</text>
<text class="rl" x="200.50" y="211.66">GrayVol_rh.posteriorcingulate</text>
<text class="rl" x="200.50" y="222.43">GrayVol_rh.rostralanteriorcingulate</text>
<text class="rl" x="200.50" y="233.21">GrayVol_rh.superiorfrontal</text>
<text class="rl" x="200.50" y="243.98">GrayVol_rh.temporalpole</text>
<text class="rl" x="200.50" y="254.76">GrayVol_rh.insula</text>
<text class="rl" x="200.50" y="265.54">ThickAvg_rh.insula</text>
<text class="rl" x="200.50" y="276.31">ThickStd_rh.fusiform</text>
<text class="rl" x="200.50" y="287.09">ThickStd_rh.lingual</text>
<text class="rl" x="200.50" y="297.86">MeanCurv_lh.temporalpole</text>
<text class="rl" x="200.50" y="308.64">GausCurv_lh.bankssts</text>
<text class="rl" x="200.50" y="319.42">GausCurv_rh.inferiortemporal</text>
<text class="rl" x="200.50" y="330.19">FoldInd_lh.bankssts</text>
<text class="rl" x="200.50" y="340.97">FoldInd_lh.lingual</text>
<text class="rl" x="200.50" y="351.74">FoldInd_lh.temporalpole</text>
<text class="rl" x="200.50" y="362.52">CurvInd_lh.bankssts</text>
<text class="rl" x="200.50" y="373.30">CurvInd_lh.lingual</text>
<text class="cl" style="font-size:8.3px" transform="translate(58.30,382.68) rotate(-45)">Boston.Naming.Test</text>
<text class="cl" style="font-size:8.3px" transform="translate(73.30,382.68) rotate(-45)">Constructional.Praxis</text>
<text class="cl" style="font-size:8.3px" transform="translate(88.30,382.68) rotate(-45)">Constructional.Praxis.Recall</text>
<text class="cl" style="font-size:8.3px" transform="translate(103.30,382.68) rotate(-45)">MMSE.KC</text>
<text class="cl" style="font-size:8.3px" transform="translate(118.30,382.68) rotate(-45)">SBT.K</text>
<text class="cl" style="font-size:8.3px" transform="translate(133.30,382.68) rotate(-45)"><tspan font-weight="bold" style="font-size:7.3px">CERAD-K</tspan> Total.Score</text>
<text class="cl" style="font-size:8.3px" transform="translate(148.30,382.68) rotate(-45)">Verbal.Fluency</text>
<text class="cl" style="font-size:8.3px" transform="translate(163.30,382.68) rotate(-45)">Word.List.Memory</text>
<text class="cl" style="font-size:8.3px" transform="translate(178.30,382.68) rotate(-45)">Word.List.Recall</text>
<text class="cl" style="font-size:8.3px" transform="translate(193.30,382.68) rotate(-45)">Word.List.Recognition</text>
<rect x="421.46" y="11.50" width="15.00" height="10.82" fill="#8e99cc"/>
<rect x="436.46" y="11.50" width="15.00" height="10.82" fill="#fcfcfc"/>
<rect x="451.46" y="11.50" width="15.00" height="10.82" fill="#fcfcfc"/>
<rect x="466.46" y="11.50" width="15.00" height="10.82" fill="#98a2d0"/>
<rect x="481.46" y="11.50" width="15.00" height="10.82" fill="#f68e91"/>
<rect x="496.46" y="11.50" width="15.00" height="10.82" fill="#d4d8eb"/>
<rect x="511.46" y="11.50" width="15.00" height="10.82" fill="#9ca6d2"/>
<rect x="526.46" y="11.50" width="15.00" height="10.82" fill="#dee1ef"/>
<rect x="541.46" y="11.50" width="15.00" height="10.82" fill="#e8eaf3"/>
<rect x="556.46" y="11.50" width="15.00" height="10.82" fill="#eceef5"/>
<rect x="421.46" y="22.32" width="15.00" height="10.82" fill="#8e99cc"/>
<rect x="436.46" y="22.32" width="15.00" height="10.82" fill="#dee1ef"/>
<rect x="451.46" y="22.32" width="15.00" height="10.82" fill="#cacfe6"/>
<rect x="466.46" y="22.32" width="15.00" height="10.82" fill="#8490c8"/>
<rect x="481.46" y="22.32" width="15.00" height="10.82" fill="#f68285"/>
<rect x="496.46" y="22.32" width="15.00" height="10.82" fill="#dee1ef"/>
<rect x="511.46" y="22.32" width="15.00" height="10.82" fill="#98a2d0"/>
<rect x="526.46" y="22.32" width="15.00" height="10.82" fill="#e4e6f2"/>
<rect x="541.46" y="22.32" width="15.00" height="10.82" fill="#f2f3f8"/>
<rect x="556.46" y="22.32" width="15.00" height="10.82" fill="#f8f8fa"/>
<rect x="421.46" y="33.14" width="15.00" height="10.82" fill="#cacfe6"/>
<rect x="436.46" y="33.14" width="15.00" height="10.82" fill="#fbeeef"/>
<rect x="451.46" y="33.14" width="15.00" height="10.82" fill="#e8eaf3"/>
<rect x="466.46" y="33.14" width="15.00" height="10.82" fill="#bcc2e0"/>
<rect x="481.46" y="33.14" width="15.00" height="10.82" fill="#f46569"/>
<rect x="496.46" y="33.14" width="15.00" height="10.82" fill="#d8dcec"/>
<rect x="511.46" y="33.14" width="15.00" height="10.82" fill="#e8eaf3"/>
<rect x="526.46" y="33.14" width="15.00" height="10.82" fill="#d4d8eb"/>
<rect x="541.46" y="33.14" width="15.00" height="10.82" fill="#dee1ef"/>
<rect x="556.46" y="33.14" width="15.00" height="10.82" fill="#e4e6f2"/>
<rect x="421.46" y="43.96" width="15.00" height="10.82" fill="#a2abd5"/>
<rect x="436.46" y="43.96" width="15.00" height="10.82" fill="#fcf7f8"/>
<rect x="451.46" y="43.96" width="15.00" height="10.82" fill="#fad9da"/>
<rect x="466.46" y="43.96" width="15.00" height="10.82" fill="#b6bdde"/>
<rect x="481.46" y="43.96" width="15.00" height="10.82" fill="#f57679"/>
<rect x="496.46" y="43.96" width="15.00" height="10.82" fill="#cacfe6"/>
<rect x="511.46" y="43.96" width="15.00" height="10.82" fill="#e8eaf3"/>
<rect x="526.46" y="43.96" width="15.00" height="10.82" fill="#cacfe6"/>
<rect x="541.46" y="43.96" width="15.00" height="10.82" fill="#dee1ef"/>
<rect x="556.46" y="43.96" width="15.00" height="10.82" fill="#e4e6f2"/>
<rect x="421.46" y="54.78" width="15.00" height="10.82" fill="#98a2d0"/>
<rect x="436.46" y="54.78" width="15.00" height="10.82" fill="#fbe0e1"/>
<rect x="451.46" y="54.78" width="15.00" height="10.82" fill="#fbeaea"/>
<rect x="466.46" y="54.78" width="15.00" height="10.82" fill="#b0b8db"/>
<rect x="481.46" y="54.78" width="15.00" height="10.82" fill="#f57679"/>
<rect x="496.46" y="54.78" width="15.00" height="10.82" fill="#dee1ef"/>
<rect x="511.46" y="54.78" width="15.00" height="10.82" fill="#b6bdde"/>
<rect x="526.46" y="54.78" width="15.00" height="10.82" fill="#dee1ef"/>
<rect x="541.46" y="54.78" width="15.00" height="10.82" fill="#e8eaf3"/>
<rect x="556.46" y="54.78" width="15.00" height="10.82" fill="#f0f1f7"/>
<rect x="421.46" y="65.60" width="15.00" height="10.82" fill="#a2abd5"/>
<rect x="436.46" y="65.60" width="15.00" height="10.82" fill="#fad9da"/>
<rect x="451.46" y="65.60" width="15.00" height="10.82" fill="#fcf3f3"/>
<rect x="466.46" y="65.60" width="15.00" height="10.82" fill="#a8b0d7"/>
<rect x="481.46" y="65.60" width="15.00" height="10.82" fill="#f57679"/>
<rect x="496.46" y="65.60" width="15.00" height="10.82" fill="#dee1ef"/>
<rect x="511.46" y="65.60" width="15.00" height="10.82" fill="#b0b8db"/>
<rect x="526.46" y="65.60" width="15.00" height="10.82" fill="#eceef5"/>
<rect x="541.46" y="65.60" width="15.00" height="10.82" fill="#f2f3f8"/>
<rect x="556.46" y="65.60" width="15.00" height="10.82" fill="#f4f5f9"/>
<rect x="421.46" y="76.42" width="15.00" height="10.82" fill="#b6bdde"/>
<rect x="436.46" y="76.42" width="15.00" height="10.82" fill="#f0f1f7"/>
<rect x="451.46" y="76.42" width="15.00" height="10.82" fill="#b6bdde"/>
<rect x="466.46" y="76.42" width="15.00" height="10.82" fill="#8490c8"/>
<rect x="481.46" y="76.42" width="15.00" height="10.82" fill="#f79a9d"/>
<rect x="496.46" y="76.42" width="15.00" height="10.82" fill="#a8b0d7"/>
<rect x="511.46" y="76.42" width="15.00" height="10.82" fill="#e8eaf3"/>
<rect x="526.46" y="76.42" width="15.00" height="10.82" fill="#b0b8db"/>
<rect x="541.46" y="76.42" width="15.00" height="10.82" fill="#b6bdde"/>
<rect x="556.46" y="76.42" width="15.00" height="10.82" fill="#c0c6e2"/>
<rect x="421.46" y="87.24" width="15.00" height="10.82" fill="#b6bdde"/>
<rect x="436.46" y="87.24" width="15.00" height="10.82" fill="#fcfcfc"/>
<rect x="451.46" y="87.24" width="15.00" height="10.82" fill="#d4d8eb"/>
<rect x="466.46" y="87.24" width="15.00" height="10.82" fill="#98a2d0"/>
<rect x="481.46" y="87.24" width="15.00" height="10.82" fill="#f46569"/>
<rect x="496.46" y="87.24" width="15.00" height="10.82" fill="#dee1ef"/>
<rect x="511.46" y="87.24" width="15.00" height="10.82" fill="#dee1ef"/>
<rect x="526.46" y="87.24" width="15.00" height="10.82" fill="#dee1ef"/>
<rect x="541.46" y="87.24" width="15.00" height="10.82" fill="#f0f1f7"/>
<rect x="556.46" y="87.24" width="15.00" height="10.82" fill="#f0f1f7"/>
<rect x="421.46" y="98.06" width="15.00" height="10.82" fill="#8490c8"/>
<rect x="436.46" y="98.06" width="15.00" height="10.82" fill="#e4e6f2"/>
<rect x="451.46" y="98.06" width="15.00" height="10.82" fill="#f0f1f7"/>
<rect x="466.46" y="98.06" width="15.00" height="10.82" fill="#808cc6"/>
<rect x="481.46" y="98.06" width="15.00" height="10.82" fill="#f8b4b6"/>
<rect x="496.46" y="98.06" width="15.00" height="10.82" fill="#b0b8db"/>
<rect x="511.46" y="98.06" width="15.00" height="10.82" fill="#b0b8db"/>
<rect x="526.46" y="98.06" width="15.00" height="10.82" fill="#b6bdde"/>
<rect x="541.46" y="98.06" width="15.00" height="10.82" fill="#c0c6e2"/>
<rect x="556.46" y="98.06" width="15.00" height="10.82" fill="#c0c6e2"/>
<rect x="421.46" y="108.88" width="15.00" height="10.82" fill="#acb4d9"/>
<rect x="436.46" y="108.88" width="15.00" height="10.82" fill="#dee1ef"/>
<rect x="451.46" y="108.88" width="15.00" height="10.82" fill="#f4f5f9"/>
<rect x="466.46" y="108.88" width="15.00" height="10.82" fill="#9ca6d2"/>
<rect x="481.46" y="108.88" width="15.00" height="10.82" fill="#f45d62"/>
<rect x="496.46" y="108.88" width="15.00" height="10.82" fill="#cacfe6"/>
<rect x="511.46" y="108.88" width="15.00" height="10.82" fill="#dee1ef"/>
<rect x="526.46" y="108.88" width="15.00" height="10.82" fill="#d0d4e9"/>
<rect x="541.46" y="108.88" width="15.00" height="10.82" fill="#dee1ef"/>
<rect x="556.46" y="108.88" width="15.00" height="10.82" fill="#e4e6f2"/>
<rect x="421.46" y="119.70" width="15.00" height="10.82" fill="#8e99cc"/>
<rect x="436.46" y="119.70" width="15.00" height="10.82" fill="#fbe5e5"/>
<rect x="451.46" y="119.70" width="15.00" height="10.82" fill="#e8eaf3"/>
<rect x="466.46" y="119.70" width="15.00" height="10.82" fill="#98a2d0"/>
<rect x="481.46" y="119.70" width="15.00" height="10.82" fill="#f35156"/>
<rect x="496.46" y="119.70" width="15.00" height="10.82" fill="#c0c6e2"/>
<rect x="511.46" y="119.70" width="15.00" height="10.82" fill="#acb4d9"/>
<rect x="526.46" y="119.70" width="15.00" height="10.82" fill="#d0d4e9"/>
<rect x="541.46" y="119.70" width="15.00" height="10.82" fill="#dee1ef"/>
<rect x="556.46" y="119.70" width="15.00" height="10.82" fill="#dee1ef"/>
<rect x="421.46" y="130.52" width="15.00" height="10.82" fill="#b0b8db"/>
<rect x="436.46" y="130.52" width="15.00" height="10.82" fill="#f9c8c9"/>
<rect x="451.46" y="130.52" width="15.00" height="10.82" fill="#d4d8eb"/>
<rect x="466.46" y="130.52" width="15.00" height="10.82" fill="#9ca6d2"/>
<rect x="481.46" y="130.52" width="15.00" height="10.82" fill="#f68285"/>
<rect x="496.46" y="130.52" width="15.00" height="10.82" fill="#d4d8eb"/>
<rect x="511.46" y="130.52" width="15.00" height="10.82" fill="#a8b0d7"/>
<rect x="526.46" y="130.52" width="15.00" height="10.82" fill="#e8eaf3"/>
<rect x="541.46" y="130.52" width="15.00" height="10.82" fill="#f0f1f7"/>
<rect x="556.46" y="130.52" width="15.00" height="10.82" fill="#f0f1f7"/>
<line x1="421.46" y1="11.50" x2="571.46" y2="11.50"/>
<line x1="421.46" y1="22.32" x2="571.46" y2="22.32"/>
<line x1="421.46" y1="33.14" x2="571.46" y2="33.14"/>
<line x1="421.46" y1="43.96" x2="571.46" y2="43.96"/>
<line x1="421.46" y1="54.78" x2="571.46" y2="54.78"/>
<line x1="421.46" y1="65.60" x2="571.46" y2="65.60"/>
<line x1="421.46" y1="76.42" x2="571.46" y2="76.42"/>
<line x1="421.46" y1="87.24" x2="571.46" y2="87.24"/>
<line x1="421.46" y1="98.06" x2="571.46" y2="98.06"/>
<line x1="421.46" y1="108.88" x2="571.46" y2="108.88"/>
<line x1="421.46" y1="119.70" x2="571.46" y2="119.70"/>
<line x1="421.46" y1="130.52" x2="571.46" y2="130.52"/>
<line x1="421.46" y1="141.34" x2="571.46" y2="141.34"/>
<line x1="421.46" y1="11.50" x2="421.46" y2="141.34"/>
<line x1="436.46" y1="11.50" x2="436.46" y2="141.34"/>
<line x1="451.46" y1="11.50" x2="451.46" y2="141.34"/>
<line x1="466.46" y1="11.50" x2="466.46" y2="141.34"/>
<line x1="481.46" y1="11.50" x2="481.46" y2="141.34"/>
<line x1="496.46" y1="11.50" x2="496.46" y2="141.34"/>
<line x1="511.46" y1="11.50" x2="511.46" y2="141.34"/>
<line x1="526.46" y1="11.50" x2="526.46" y2="141.34"/>
<line x1="541.46" y1="11.50" x2="541.46" y2="141.34"/>
<line x1="556.46" y1="11.50" x2="556.46" y2="141.34"/>
<line x1="571.46" y1="11.50" x2="571.46" y2="141.34"/>
<circle cx="428.96" cy="15.51" r="1.3" fill="#0e1540"/>
<circle cx="428.96" cy="26.33" r="1.3" fill="#0e1540"/>
<circle cx="473.96" cy="26.33" r="1.3" fill="#0e1540"/>
<circle cx="488.96" cy="26.33" r="1.3" fill="#3a0c0e"/>
<circle cx="488.96" cy="37.15" r="1.3" fill="#3a0c0e"/>
<circle cx="488.96" cy="47.97" r="1.3" fill="#3a0c0e"/>
<circle cx="488.96" cy="58.79" r="1.3" fill="#3a0c0e"/>
<circle cx="488.96" cy="69.61" r="1.3" fill="#3a0c0e"/>
<circle cx="473.96" cy="80.43" r="1.3" fill="#0e1540"/>
<circle cx="473.96" cy="91.25" r="1.3" fill="#0e1540"/>
<circle cx="488.96" cy="91.25" r="1.3" fill="#3a0c0e"/>
<circle cx="428.96" cy="102.07" r="1.3" fill="#0e1540"/>
<circle cx="473.96" cy="102.07" r="1.3" fill="#0e1540"/>
<circle cx="473.96" cy="112.89" r="1.3" fill="#0e1540"/>
<circle cx="488.96" cy="112.89" r="1.3" fill="#3a0c0e"/>
<circle cx="428.96" cy="123.71" r="1.3" fill="#0e1540"/>
<circle cx="473.96" cy="123.71" r="1.3" fill="#0e1540"/>
<circle cx="488.96" cy="123.71" r="1.3" fill="#3a0c0e"/>
<circle cx="473.96" cy="134.53" r="1.3" fill="#0e1540"/>
<text class="rl" x="574.26" y="19.91">Total WMHs</text>
<text class="rl" x="574.26" y="30.73">Ventricle &lt;1cm WMHs</text>
<text class="rl" x="574.26" y="41.55">rh_occipital(total WMHs)</text>
<text class="rl" x="574.26" y="52.37">rh_temporal(total WMHs)</text>
<text class="rl" x="574.26" y="63.19">lh_parietal(total WMHs)</text>
<text class="rl" x="574.26" y="74.01">rh_parietal(total WMHs)</text>
<text class="rl" x="574.26" y="84.83">lh_occipital(LV &lt;1cm WMHs)</text>
<text class="rl" x="574.26" y="95.65">rh_occipital(LV &lt;1cm WMHs)</text>
<text class="rl" x="574.26" y="106.47">lh_temporal(LV &lt;1cm WMHs)</text>
<text class="rl" x="574.26" y="117.29">rh_temporal(LV &lt;1cm WMHs)</text>
<text class="rl" x="574.26" y="128.11">lh_parietal(LV &lt;1cm WMHs)</text>
<text class="rl" x="574.26" y="138.93">rh_parietal(LV &lt;1cm WMHs)</text>
<text class="cl" style="font-size:8.3px" transform="translate(431.46,148.34) rotate(-45)">Boston.Naming.Test</text>
<text class="cl" style="font-size:8.3px" transform="translate(446.46,148.34) rotate(-45)">Constructional.Praxis</text>
<text class="cl" style="font-size:8.3px" transform="translate(461.46,148.34) rotate(-45)">Constructional.Praxis.Recall</text>
<text class="cl" style="font-size:8.3px" transform="translate(476.46,148.34) rotate(-45)">MMSE.KC</text>
<text class="cl" style="font-size:8.3px" transform="translate(491.46,148.34) rotate(-45)">SBT.K</text>
<text class="cl" style="font-size:8.3px" transform="translate(506.46,148.34) rotate(-45)"><tspan font-weight="bold" style="font-size:7.3px">CERAD-K</tspan> Total.Score</text>
<text class="cl" style="font-size:8.3px" transform="translate(521.46,148.34) rotate(-45)">Verbal.Fluency</text>
<text class="cl" style="font-size:8.3px" transform="translate(536.46,148.34) rotate(-45)">Word.List.Memory</text>
<text class="cl" style="font-size:8.3px" transform="translate(551.46,148.34) rotate(-45)">Word.List.Recall</text>
<text class="cl" style="font-size:8.3px" transform="translate(566.46,148.34) rotate(-45)">Word.List.Recognition</text>
</svg>
</body></html>
